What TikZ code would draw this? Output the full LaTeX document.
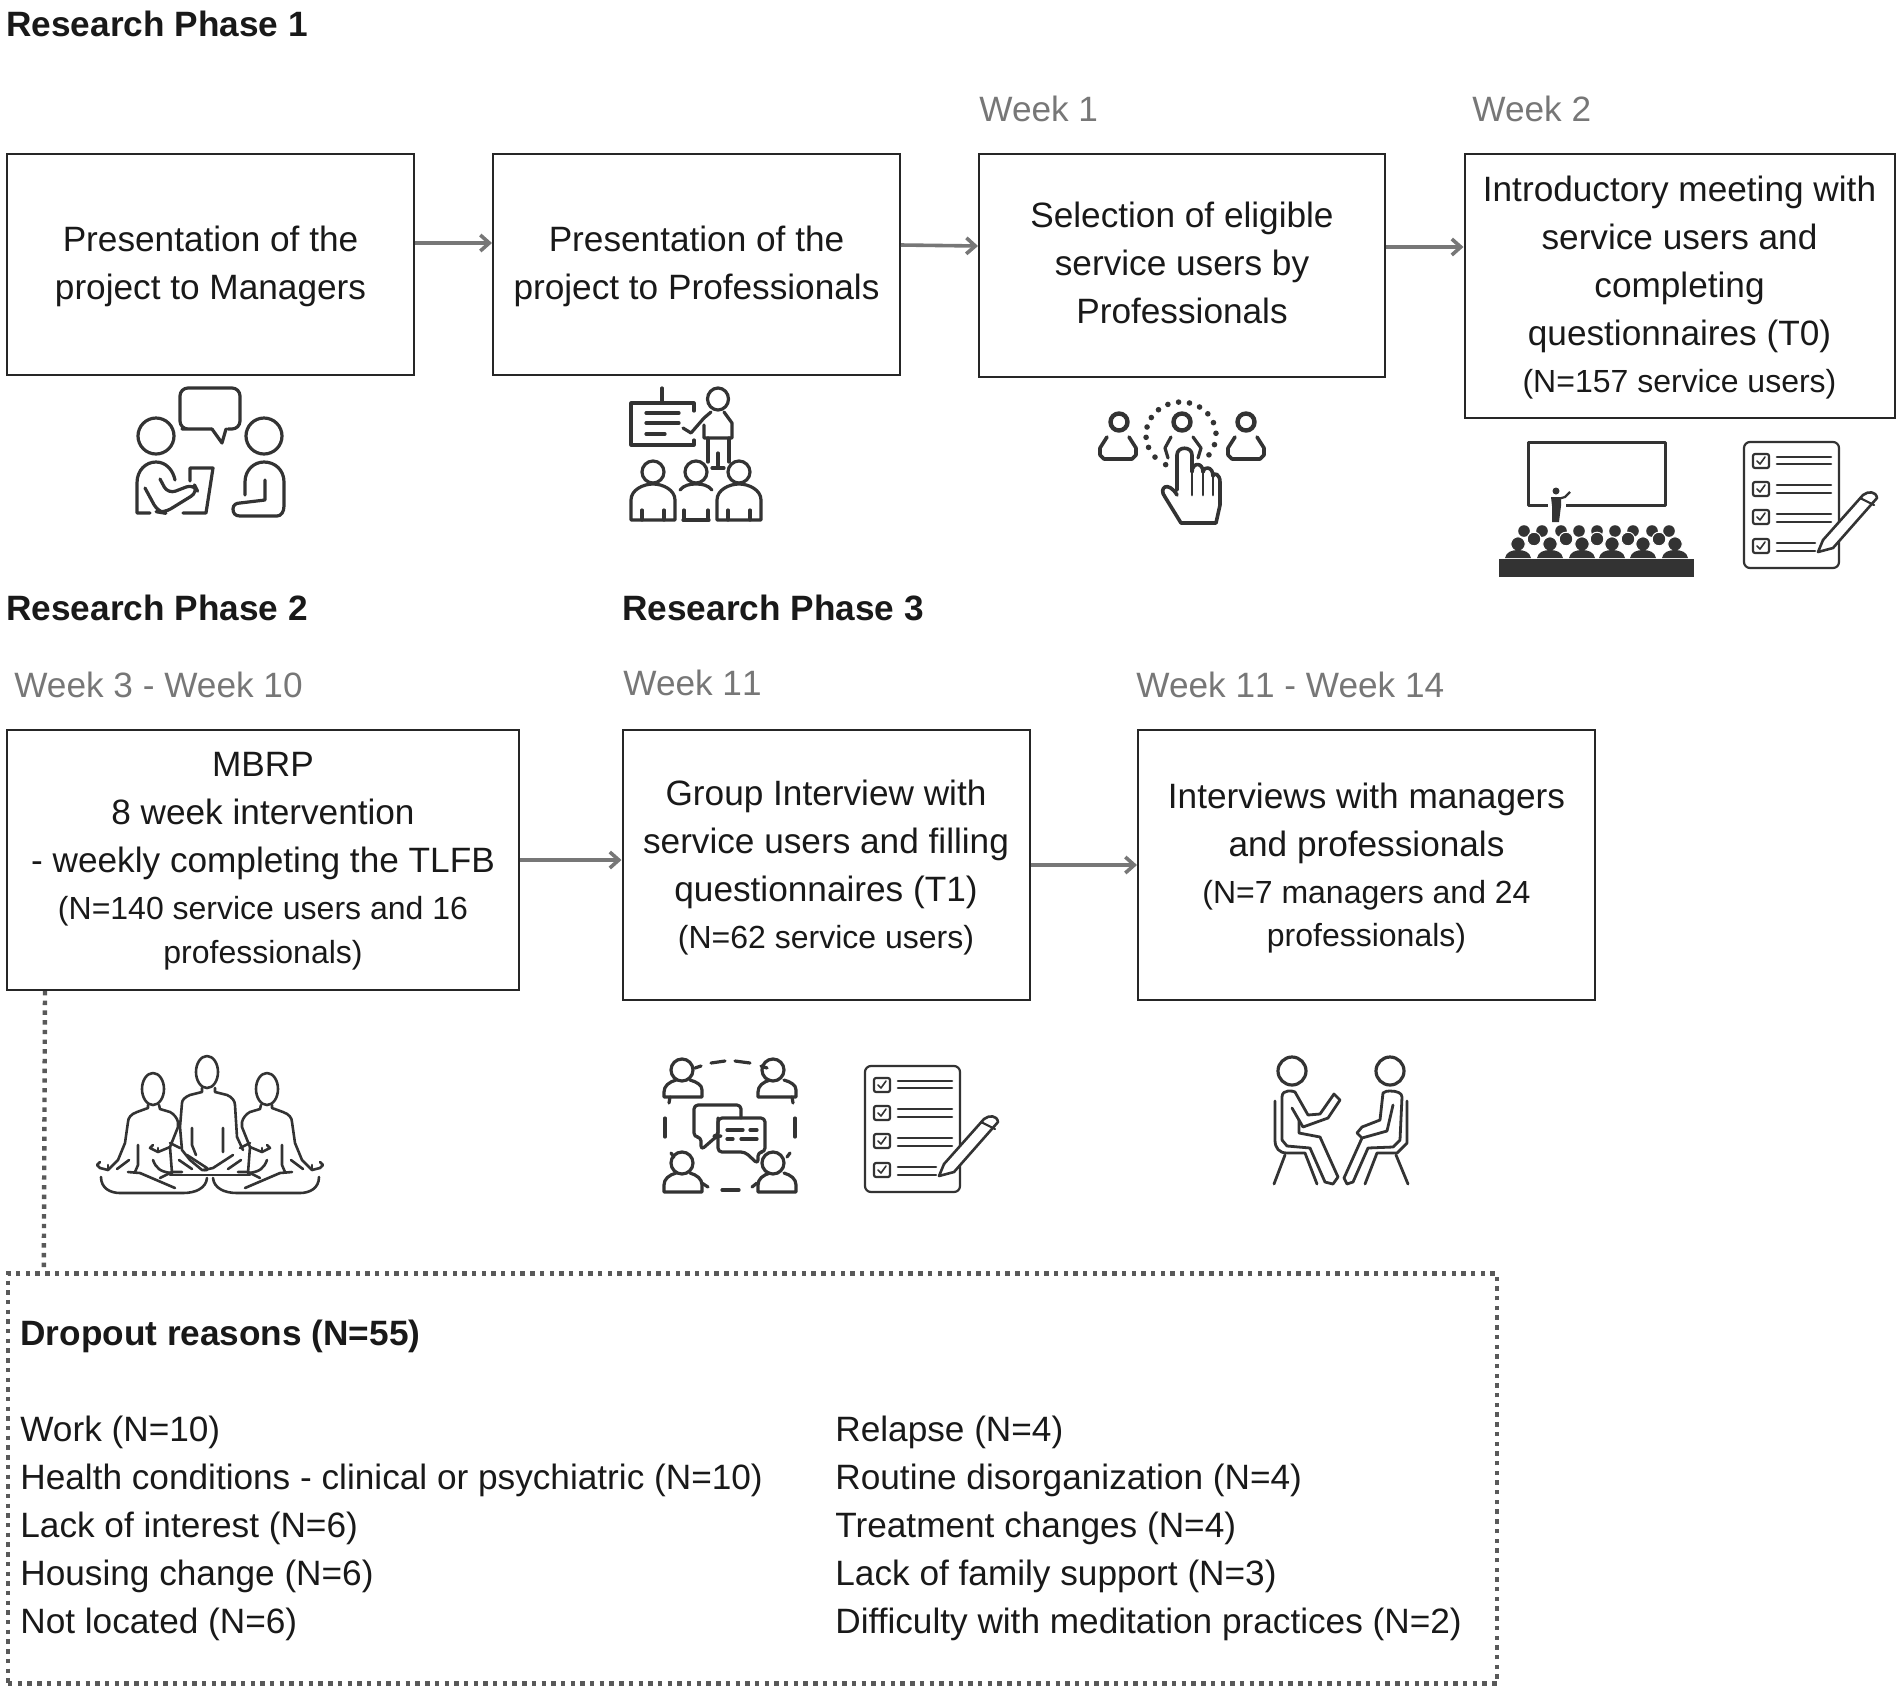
\documentclass[tikz,border=0pt]{standalone}
\usepackage{fontspec}
\setmainfont{Liberation Sans}
\usetikzlibrary{arrows.meta}
\definecolor{inkgray}{HTML}{333333}
\definecolor{weekgray}{HTML}{777777}
\newcommand{\smallnote}[1]{{\fontsize{16}{22}\selectfont #1}}
\newcommand{\toprule}[1]{\rule{0pt}{#1}}
\newcommand{\botrule}[1]{\rule[-#1]{0pt}{0pt}}
\tikzset{%
  stepbox/.style   = {shape=rectangle, draw=black!85, line width=1pt, align=center,%
                      inner sep=0pt, text=black!90},%
  phaselabel/.style = {anchor=base west, inner sep=0pt, font=\fontsize{17.6}{24}\selectfont\bfseries, text=black!90},%
  weeklabel/.style = {anchor=base west, inner sep=0pt, text=weekgray},%
  listtext/.style  = {anchor=north west, inner sep=0pt, align=left, text=black!90},%
  flowline/.style  = {draw=weekgray, line width=1.8pt, -{Straight Barb[length=4.5pt,width=8pt]}},%
  dotline/.style   = {draw=black!65, line width=2.2pt, dash pattern=on 2.2pt off 2.65pt},%
  icon/.style      = {draw=inkgray, line width=1.6pt, line cap=round, line join=round},%
  thinicon/.style  = {draw=inkgray, line width=1.3pt, line cap=round, line join=round},%
  checklist/.pic   = {%
    \draw[icon, line width=1.1pt, rounded corners=3pt] (0,0) rectangle (95,126);
    \foreach \rowy/\ya/\yb/\xe in {19/15/22/87, 47/43/51/87, 75/72/80/87, 104/101/109/71}{%
      \draw[icon, line width=1.1pt, rounded corners=1pt] (9,\rowy-7) rectangle (25,\rowy+7);
      \draw[icon, line width=.8pt] (13,\rowy) -- (16,\rowy+3) -- (21,\rowy-4);
      \draw[icon, line width=1.3pt] (33,\ya) -- (\xe,\ya) (33,\yb) -- (\xe,\yb);
    }
    \fill[white] (74,110) -- (79,98) -- (119,53) -- (127,49) -- (135,56) -- (89,106) -- cycle;
    \draw[icon, line width=1.3pt] (74,110) -- (79,98) -- (119,53) .. controls (124,49) and (132,49) .. (133,56) -- (89,106) -- cycle;
    \draw[icon, line width=1.1pt] (116,56) -- (130,63);
  },%
  sitter/.pic      = {%
    \draw[thinicon] (-57,23) ellipse (11 and 16);
    \draw[thinicon] (-62,39) -- (-62,42) -- (-73,46) .. controls (-79,48) and (-82,52) .. (-82,56) -- (-85,77) -- (-92,94) -- (-102,104) -- (-110,102) -- (-113,99) -- (-110,96);
    \draw[thinicon] (-102,104) -- (-102,99);
    \draw[thinicon] (-93,103) -- (-81,94);
    \draw[thinicon] (-51,39) -- (-50,43) -- (-40,46) .. controls (-36,48) and (-33,52) .. (-32,56) -- (-32,61) -- (-40,81) -- (-52,86) -- (-60,82) -- (-57,79);
    \draw[thinicon] (-52,86) -- (-52,82);
    \draw[thinicon] (-40,77) -- (-30,82);
    \draw[thinicon] (-40,81) -- (-38,107);
    \draw[thinicon] (-72,79) -- (-72,99) -- (-75,106);
    \draw[thinicon] (-82,106) -- (-70,107) -- (-35,122);
    \draw[thinicon] (-57,94) .. controls (-54,102) and (-50,106) .. (-38,107);
    \draw[thinicon] (-31,94) -- (-18,103);
    \draw[thinicon] (-50,112) -- (-38,106) -- (-28,106);
    \draw[thinicon] (-109,111) .. controls (-109,122) and (-100,127) .. (-90,127) -- (-27,127) .. controls (-14,127) and (-4,122) .. (-3,112);
  }%
}
\begin{document}
\begin{tikzpicture}[x=.5pt,y=-.5pt,every node/.style={font=\fontsize{17.6}{24}\selectfont}]
  \useasboundingbox (0,0) rectangle (1902,1693);
  % phase and week labels
  \node[phaselabel] (phaseone) at (6,36) {Research Phase 1};
  \node[phaselabel] (phasetwo) at (6,620) {Research Phase 2};
  \node[phaselabel] (phasethree) at (622,620) {Research Phase 3};
  \node[weeklabel] (weekone) at (979,121) {Week 1};
  \node[weeklabel] (weektwo) at (1472,121) {Week 2};
  \node[weeklabel] (weekthree) at (14,697) {Week 3 - Week 10};
  \node[weeklabel] (weekeleven) at (623,695) {Week 1\kern0pt 1};
  \node[weeklabel] (weekfourteen) at (1136,697) {Week 1\kern0pt 1 - Week 14};
  % steps
  \node[stepbox, minimum width=203.5pt, minimum height=110.5pt] (managers) at (210.5,264.5)
    {\toprule{15pt}Presentation of the\\project to Managers};
  \node[stepbox, minimum width=203.5pt, minimum height=110.5pt] (professionals) at (696.5,264.5)
    {\toprule{15pt}Presentation of the\\project to Professionals};
  \node[stepbox, minimum width=203pt, minimum height=111.5pt] (selection) at (1182,265.5)
    {Selection of eligible\\service users by\\Professionals\botrule{2.4pt}};
  \node[stepbox, minimum width=215pt, minimum height=132pt] (introduction) at (1679.5,286)
    {\toprule{14.2pt}Introductory meeting with\\service users and\\completing\\questionnaires (T0)\\[-.5pt]\smallnote{(N=157 service users)}};
  \node[stepbox, minimum width=256pt, minimum height=130pt] (intervention) at (263,860)
    {\toprule{13.8pt}MBRP\\8 week intervention\\- weekly completing the TLFB\\[-.5pt]\smallnote{(N=140 service users and 16}\\[-2pt]\smallnote{professionals)}};
  \node[stepbox, minimum width=203.5pt, minimum height=135pt] (groupint) at (826,865)
    {\toprule{15.3pt}Group Interview with\\service users and filling\\questionnaires (T1)\\[-.5pt]\smallnote{(N=62 service users)}};
  \node[stepbox, minimum width=228.5pt, minimum height=135pt] (interviews) at (1366.5,865)
    {\toprule{16pt}Interviews with managers\\and professionals\\[-.5pt]\smallnote{(N=7 managers and 24}\\[-2.5pt]\smallnote{professionals)}};
  % dropout box
  \node[dotline, shape=rectangle, inner sep=0pt, minimum width=744.5pt, minimum height=205pt] (dropout) at (752.5,1478.5) {};
  \node[phaselabel] (dropouttitle) at (20,1345) {Dropout reasons (N=55)};
  \node[listtext] (reasonsleft) at (20,1416)
    {Work (N=10)\\Health conditions - clinical or psychiatric (N=10)\\Lack of interest (N=6)\\Housing change (N=6)\\Not located (N=6)};
  \node[listtext] (reasonsright) at (835,1416)
    {Relapse (N=4)\\Routine disorganization (N=4)\\Treatment changes (N=4)\\Lack of family support (N=3)\\Difficulty with meditation practices (N=2)};
  % connectors
  \draw[flowline] ([yshift=10.75pt]managers.east) -- ([yshift=10.75pt]professionals.west);
  \draw[flowline] ([yshift=9.75pt]professionals.east) -- ([yshift=9.75pt]selection.west);
  \draw[flowline] ([yshift=9.25pt]selection.east) -- ([yshift=19.5pt]introduction.west);
  \draw[flowline] (intervention.east) -- ([yshift=2.5pt]groupint.west);
  \draw[flowline] (groupint.east) -- (interviews.west);
  \draw[dotline] ([xshift=19.5pt]intervention.south west) -- ([xshift=19pt]dropout.north west);
  % discussion icon
  \draw[icon, rounded corners=4pt] (212,429) -- (190,429) -- (180,429) -- (180,388) -- (240,388) -- (240,429) -- (228,429);
  \draw[icon] (212,429) -- (222,443) -- (226,429);
  \draw[icon] (156,436) ellipse (18 and 18) (264,436) ellipse (18 and 18);
  \draw[icon] (150,513) -- (137,513) -- (137,483) .. controls (137,470) and (146,462) .. (156,462) .. controls (166,462) and (173,470) .. (175,480);
  \draw[icon, rounded corners=4pt] (145,488) -- (158,512) -- (164,513) -- (198,492) -- (194,484) -- (168,494) -- (160,479);
  \draw[icon] (190,481) -- (190,468) -- (213,468) -- (206,513) -- (183,513);
  \draw[icon] (245,495) -- (245,482) .. controls (245,470) and (254,462) .. (264,462) .. controls (275,462) and (284,470) .. (284,482) -- (284,506) .. controls (284,512) and (281,516) .. (277,516) -- (240,516) .. controls (235,516) and (233,513) .. (233,509) .. controls (233,505) and (236,503) .. (240,503) -- (265,500) -- (265,480);
  % presenter icon
  \draw[icon] (694,411) -- (694,403) -- (631,403) -- (631,445) -- (694,445) -- (694,440);
  \draw[icon] (662,388) -- (662,403);
  \draw[icon] (646,413) -- (679,413) (646,423) -- (679,423) (646,434) -- (665,434);
  \draw[icon] (718,399) ellipse (10.5 and 11);
  \draw[icon] (683,428) -- (691,433) -- (704,418) -- (711,412) (724,412) -- (732,423) -- (732,438) -- (704,438) -- (704,425);
  \draw[icon] (708,438) -- (708,462) (729,438) -- (729,462);
  \draw[icon] (718,453) -- (718,468) (712,468) -- (724,468);
  \foreach \cx/\hw in {653/22, 739/22}{%
    \draw[icon] (\cx,472) ellipse (11 and 11);
    \draw[icon] (\cx-\hw,520) -- (\cx-\hw,500) .. controls (\cx-\hw,490) and (\cx-10,484) .. (\cx,484) .. controls (\cx+10,484) and (\cx+\hw,490) .. (\cx+\hw,500) -- (\cx+\hw,520) -- cycle;
    \draw[icon] (\cx-11,510) -- (\cx-11,520) (\cx+11,510) -- (\cx+11,520);
  }
  \draw[icon] (696,472) ellipse (11 and 11);
  \draw[icon] (680,490) .. controls (684,485) and (690,484) .. (696,484) .. controls (702,484) and (708,485) .. (712,490);
  \draw[icon] (683,520) -- (709,520) (684,510) -- (684,520) (708,510) -- (708,520);
  % selection icon
  \foreach \cx in {1119,1182,1246}{%
    \draw[icon, line width=2.2pt] (\cx,422) circle [radius=8.5];
  }
  \foreach \cx in {1118,1246}{%
    \draw[icon, line width=1.8pt] (\cx-11,437) -- (\cx-18,448) -- (\cx-18,455) -- (\cx-14,459) -- (\cx+14,459) -- (\cx+18,455) -- (\cx+18,448) -- (\cx+11,437);
  }
  \draw[icon] (1171,437) -- (1165,448) -- (1168,458) (1193,437) -- (1201,448) -- (1198,458);
  \foreach \ang in {-37,-17,3,22,40,58,76,94,112,130,148,166,184,202,222,244}{%
    \fill[inkgray] ({1181+35*cos(\ang)},{435-33*sin(\ang)}) circle [radius=2.8];
  }
  \draw[icon, line width=1.8pt, fill=white] (1177,490) -- (1177,455) .. controls (1177,446) and (1192,446) .. (1192,455) -- (1192,472) .. controls (1192,462) and (1203,462) .. (1203,472) .. controls (1203,466) and (1213,466) .. (1213,476) .. controls (1214,472) and (1220,474) .. (1220,482) -- (1220,505) -- (1216,523) -- (1181,523) -- (1165,497) .. controls (1158,488) and (1168,480) .. (1177,495);
  \draw[icon, line width=1.4pt] (1192,472) -- (1192,495) (1203,472) -- (1203,495) (1213,476) -- (1213,495);
  % auditorium icon
  \draw[icon, line width=1.5pt, line cap=butt] (1528,442) rectangle (1665,505);
  \fill[white] (1548,500) rectangle (1566,507);
  \fill[inkgray] (1556,491) circle [radius=3.5];
  \fill[inkgray] (1551,497) -- (1561,497) -- (1561,506) -- (1559,522) -- (1552,522) -- (1552,506) -- cycle;
  \draw[inkgray, line width=1.1pt] (1558,499) -- (1565,497) -- (1570,492);
  \foreach \cx in {1524,1542,1561,1579,1597,1615,1633,1652,1669}{%
    \fill[inkgray] (\cx,531) circle [radius=5.8];
  }
  \foreach \cx in {1534,1566,1597,1628,1659}{%
    \filldraw[fill=inkgray, draw=white, line width=.5pt] (\cx,539) circle [radius=6.8];
  }
  \foreach \cx in {1518,1550,1582,1612,1643,1675}{%
    \filldraw[fill=inkgray, draw=white, line width=.5pt] (\cx,544) circle [radius=7.2];
    \fill[inkgray] (\cx-13,558) .. controls (\cx-12,552) and (\cx-6,550) .. (\cx,550) .. controls (\cx+6,550) and (\cx+12,552) .. (\cx+13,558) -- cycle;
  }
  \fill[inkgray] (1499,559) rectangle (1694,577);
  % checklists
  \pic at (1744,442) {checklist};
  \pic at (865,1066) {checklist};
  % meditation icon
  \pic at (210,1066) {sitter};
  \pic[xscale=-1] at (210,1066) {sitter};
  \draw[thinicon] (207,1072) ellipse (11 and 16);
  \draw[thinicon] (202,1088) -- (202,1092) -- (190,1095) .. controls (185,1097) and (182,1100) .. (182,1103) -- (180,1127) -- (182,1150) -- (190,1160) -- (202,1170) -- (207,1170);
  \draw[thinicon] (215,1088) -- (215,1092) -- (227,1095) .. controls (232,1097) and (235,1101) .. (235,1105) -- (237,1137) -- (243,1150);
  \draw[thinicon] (192,1128) -- (192,1145) -- (196,1155) (223,1128) -- (223,1152);
  \draw[thinicon] (187,1155) -- (207,1168) (233,1155) -- (213,1168) -- (204,1170);
  \draw[thinicon] (170,1175) -- (250,1175);
  % group interview icon
  \foreach \cx/\cy in {682/1070,773/1070,682/1163,773/1163}{%
    \draw[icon] (\cx,\cy) circle [radius=11];
  }
  \foreach \cx in {683,777}{%
    \draw[icon] (\cx-7,1080) .. controls (\cx-14,1082) and (\cx-19,1086) .. (\cx-19,1092) -- (\cx-19,1097) -- (\cx+19,1097) -- (\cx+19,1090) .. controls (\cx+19,1085) and (\cx+14,1082) .. (\cx+7,1080);
    \draw[icon] (\cx-7,1173) .. controls (\cx-14,1175) and (\cx-19,1179) .. (\cx-19,1185) -- (\cx-19,1192) -- (\cx+19,1192) -- (\cx+19,1185) .. controls (\cx+19,1179) and (\cx+14,1175) .. (\cx+7,1173);
  }
  \draw[icon] (695,1068) -- (701,1066) (761,1066) -- (767,1068) (670,1097) -- (669,1103) (792,1097) -- (793,1103);
  \draw[icon] (671,1153) -- (674,1157) (790,1153) -- (787,1157) (702,1183) -- (708,1187) (752,1187) -- (757,1183);
  \draw[icon] (711,1063) -- (725,1061) (735,1061) -- (750,1063);
  \draw[icon] (665,1118) -- (665,1137) (795,1118) -- (795,1137) (722,1190) -- (739,1190);
  \draw[icon, rounded corners=2pt] (718,1118) -- (718,1136) -- (717,1136) -- (701,1150) -- (701,1137) -- (694,1137) -- (694,1105) -- (741,1105) -- (741,1118);
  \draw[icon, rounded corners=2pt] (718,1118) -- (765,1118) -- (765,1152) -- (758,1152) -- (758,1164) -- (745,1152) -- (718,1152) -- cycle;
  \draw[icon] (727,1130) -- (743,1130) (750,1130) -- (757,1130) (727,1139) -- (733,1139) (741,1139) -- (757,1139);
  % interview icon
  \draw[icon] (1292,1071) circle [radius=14] (1390,1071) circle [radius=14];
  \draw[icon, line width=1.4pt] (1275,1101) -- (1275,1140) .. controls (1275,1148) and (1279,1153) .. (1287,1153) -- (1305,1153) -- (1317,1184);
  \draw[icon, line width=1.4pt] (1285,1155) -- (1274,1184);
  \draw[icon, line width=1.4pt] (1282,1140) -- (1282,1097) .. controls (1282,1093) and (1285,1091) .. (1288,1091) .. controls (1291,1091) and (1294,1091) .. (1295,1092) -- (1308,1115) -- (1320,1114) -- (1334,1094) -- (1340,1100) -- (1328,1118) -- (1303,1127) -- (1292,1108);
  \draw[icon, line width=1.4pt] (1299,1120) -- (1299,1133) -- (1320,1137) -- (1338,1177) -- (1333,1184) -- (1325,1182) -- (1310,1148) -- (1287,1146) -- (1282,1140);
  \draw[icon, line width=1.4pt] (1407,1101) -- (1407,1143) -- (1397,1153) -- (1377,1153) -- (1365,1184);
  \draw[icon, line width=1.4pt] (1396,1155) -- (1408,1184);
  \draw[icon, line width=1.4pt] (1393,1105) -- (1387,1131) -- (1362,1138) -- (1357,1133) -- (1362,1127) -- (1380,1120) -- (1383,1093) .. controls (1385,1091) and (1388,1091) .. (1390,1091) .. controls (1397,1091) and (1402,1093) .. (1402,1097) -- (1400,1140) -- (1393,1147) -- (1368,1148) -- (1353,1182) -- (1347,1184) -- (1344,1178) -- (1362,1138);
\end{tikzpicture}
\end{document}
